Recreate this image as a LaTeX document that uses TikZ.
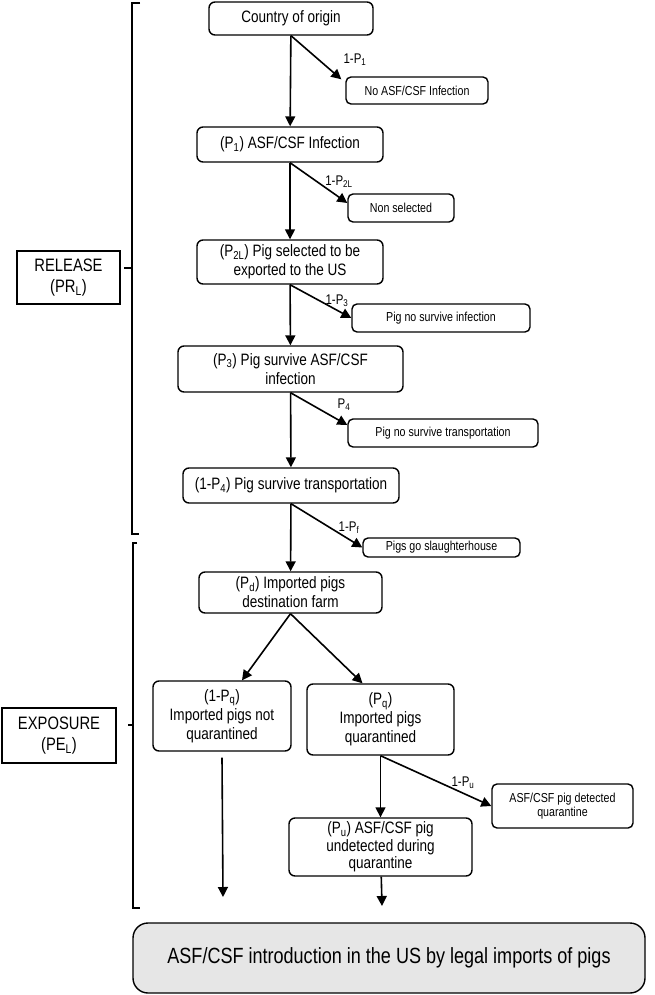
\documentclass[tikz,border=0pt]{standalone}
\usepackage{fontspec}
\setmainfont[FakeStretch=0.82]{Liberation Sans}
\usetikzlibrary{arrows.meta,positioning}
\definecolor{fgrey}{RGB}{230,230,230}
\newcommand{\Pp}[1]{P\textsubscript{#1}}
\newcommand{\fsz}[2]{\fontsize{#1}{#2}\selectfont}

\begin{document}
\begin{tikzpicture}[x=1pt,y=-1pt,
  stage/.style={draw,rounded corners=6pt,line width=1.4pt,align=center,
    inner sep=0pt,font=\fsz{16.5}{19}},
  outcome/.style={draw,rounded corners=5pt,line width=1.4pt,align=center,
    inner sep=0pt,font=\fsz{13}{14.5}},
  group/.style={draw,line width=1.4pt,align=center,inner sep=0pt,
    font=\fsz{18}{21}},
  prob/.style={inner sep=0pt,font=\fsz{14}{16}},
  flow/.style={line width=1.6pt,-{Triangle[length=10pt,width=10pt]}},
  brack/.style={line width=1.6pt}]
  \useasboundingbox (0,0) rectangle (654,995);

  % release chain
  \node[stage,minimum width=164pt,minimum height=33pt] (origin) at (291,18.5)
    {Country of origin};
  \node[outcome,minimum width=142pt,minimum height=27pt] (noinf) at (417,90.5)
    {No ASF/CSF Infection};
  \node[stage,minimum width=186pt,minimum height=35pt] (inf) at (290,144.5)
    {(\Pp{1}) ASF/CSF Infection};
  \node[outcome,minimum width=106pt,minimum height=28pt] (nonsel) at (401,208)
    {Non selected};
  \node[stage,minimum width=186pt,minimum height=44pt] (sel) at (290,262)
    {(\Pp{2L}) Pig selected to be\\exported to the US};
  \node[outcome,minimum width=178pt,minimum height=28pt] (nosurvinf) at (441,318)
    {Pig no survive infection};
  \node[stage,minimum width=225pt,minimum height=46pt] (surv) at (290.5,369)
    {(\Pp{3}) Pig survive ASF/CSF\\infection};
  \node[outcome,minimum width=190pt,minimum height=28pt] (nosurvtr) at (443,433)
    {Pig no survive transportation};
  \node[stage,minimum width=216pt,minimum height=35pt] (trans) at (291,485.5)
    {(1-\Pp{4}) Pig survive transportation};

  % exposure chain
  \node[outcome,minimum width=157pt,minimum height=19pt] (slaughter) at (441.5,547.5)
    {Pigs go slaughterhouse};
  \node[stage,minimum width=183pt,minimum height=41pt] (farm) at (290.5,592.5)
    {(\Pp{d}) Imported pigs\\destination farm};
  \node[stage,minimum width=138pt,minimum height=70pt] (notq) at (222,716)
    {(1-\Pp{q})\\Imported pigs not\\quarantined};
  \node[stage,minimum width=147pt,minimum height=71pt] (quar) at (380.5,719.5)
    {(\Pp{q})\\Imported pigs\\quarantined};
  \node[outcome,minimum width=141pt,minimum height=44pt] (detected) at (562.5,806)
    {ASF/CSF pig detected\\quarantine};
  \node[stage,minimum width=183pt,minimum height=58pt,font=\fsz{16.5}{17.5}]
    (undet) at (380.5,847)
    {(\Pp{u}) ASF/CSF pig\\undetected during\\quarantine};
  \node[stage,fill=fgrey,rounded corners=15pt,minimum width=512pt,
    minimum height=70pt,font=\fsz{22}{26}] (final) at (389,958)
    {ASF/CSF introduction in the US by legal imports of pigs};

  \coordinate (endL) at (223,897);
  \coordinate (endR) at (382,906);

  % side groups
  \node[group,minimum width=103pt,minimum height=53pt] (release) at (68.5,277.5)
    {RELEASE\\(PR\textsubscript{L})};
  \node[group,minimum width=114pt,minimum height=55pt] (exposure) at (59,735.5)
    {EXPOSURE\\(PE\textsubscript{L})};
  \draw[brack] (140,3) -- (132,3) -- (132,534) -- (139,534);
  \draw[brack] (132,268) -- (124,268);
  \draw[brack] (137,543) -- (133,543) -- (133,908) -- (140,908);
  \draw[brack] (133,725) -- (128,725);

  % probabilities
  \node[prob] (p1) at (355,60) {1-\Pp{1}};
  \node[prob] (p2) at (339,182) {1-\Pp{2L}};
  \node[prob] (p3) at (337,301) {1-\Pp{3}};
  \node[prob] (p4) at (344,405) {\Pp{4}};
  \node[prob] (pf) at (349,528) {1-\Pp{f}};
  \node[prob] (pu) at (463,783) {1-\Pp{u}};

  \draw[flow] (origin) -- (inf);
  \draw[flow] (origin.south) -- ([xshift=-4pt,yshift=-3pt]noinf.north west);
  \draw[flow] (inf) -- (sel);
  \draw[flow] (inf.south) -- ([yshift=5pt]nonsel.west);
  \draw[flow] (sel) -- (surv);
  \draw[flow] (sel.south) -- (nosurvinf.west);
  \draw[flow] (surv) -- (trans);
  \draw[flow] (surv.south) -- ([yshift=8pt]nosurvtr.west);
  \draw[flow] (trans) -- (farm);
  \draw[flow] (trans.south) -- (slaughter.west);
  \draw[flow] (farm.south) -- ([xshift=20pt]notq.north);
  \draw[flow] (farm.south) -- ([xshift=-18pt]quar.north);
  \draw[flow] ([yshift=-6pt]notq.south) -- (endL);
  \draw[flow] (quar) -- (undet);
  \draw[flow] (quar.south) -- (detected.west);
  \draw[flow] (undet) -- (endR);
\end{tikzpicture}
\end{document}
